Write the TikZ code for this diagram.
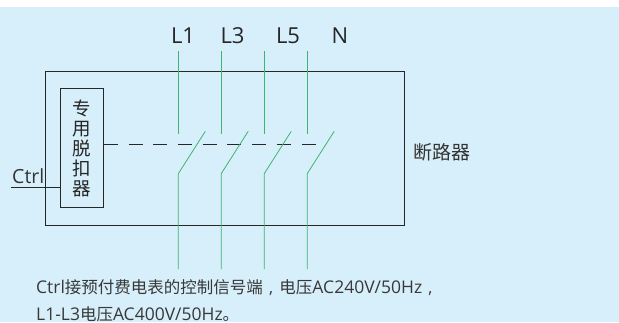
\documentclass[tikz,border=0pt]{standalone}
\usepackage{fontspec}
\setmainfont{Noto Sans CJK SC}
\newfontfamily\latinf{Open Sans}
\newcommand{\widecomma}{\makebox[16.5pt][c]{\latinf ,}}
\newcommand{\lat}[1]{{\latinf\fontsize{17.5}{17.5}\selectfont #1}}
\begin{document}
\begin{tikzpicture}[x=1pt,y=-1pt,
  frame/.style={draw=black!85,line width=0.9pt},
  wire/.style={draw=black!85,line width=0.9pt},
  green wire/.style={draw=wireGreen,line width=0.8pt},
  phase/.style={font=\latinf\fontsize{22}{22}\selectfont,text=black!85,inner sep=0pt,anchor=base},
  label/.style={text=black!80,inner sep=0pt},
  note/.style={font=\fontsize{16.5}{16.5}\selectfont,text=black!78,inner sep=0pt,anchor=base west}]
\definecolor{wireGreen}{HTML}{3DB56E}
\definecolor{bg}{HTML}{D7EFFA}
\useasboundingbox (0,0) rectangle (619,322);
\fill[white] (0,0) rectangle (619,322);
\fill[bg] (0,7) rectangle (619,322);
% outer breaker box
\draw[frame] (45.4,71.4) rectangle (404.8,225.4);
\node[frame,minimum width=43pt,minimum height=118.7pt,inner sep=0pt,anchor=north west,align=center,font=\fontsize{18.5}{20}\selectfont,text=black!85] (trip) at (60,88.3) {专\\用\\脱\\扣\\器};
% control line
\coordinate (ctrlEnd) at (11,187.3);
\draw[wire] (ctrlEnd) -- (ctrlEnd -| trip.west);
\node[label,font=\latinf\fontsize{19.5}{19.5}\selectfont,anchor=base west] (ctrl) at (12,183.3) {Ctrl};
% mechanical link
\coordinate (linkEnd) at (316,144.5);
\draw[wire,dash pattern=on 14pt off 10.7pt] (trip.east |- linkEnd) -- (linkEnd);
% labels
\node[phase] (l1) at (183,43.5) {L1};
\node[phase] (l3) at (232.5,43.5) {L3};
\node[phase] (l5) at (288,43.5) {L5};
\node[phase] (n) at (340,43.5) {N};
\node[label,font=\fontsize{19}{19}\selectfont,anchor=west] (brk) at (413,152) {断路器};
% poles
\foreach \name/\x in {a/178.3,b/221.2,c/264.2,d/307.2}{
  \coordinate (\name top) at (\x,51);
  \coordinate (\name up) at (\x,134.3);
  \coordinate (\name hinge) at (\x,173.7);
  \coordinate (\name tip) at (\x+27,131.3);
  \coordinate (\name bot) at (\x,269);
  \draw[green wire] (\name top) -- (\name up);
  \draw[green wire] (\name bot) -- (\name hinge) -- (\name tip);
}
% notes
\node[note] (note1) at (36,293) {\lat{Ctrl}接预付费电表的控制信号端\widecomma 电压\lat{AC240V/50Hz}\widecomma};
\node[note] (note2) at (36,320.5) {\lat{L1-L3}电压\lat{AC400V/50Hz}。};
\end{tikzpicture}
\end{document}
